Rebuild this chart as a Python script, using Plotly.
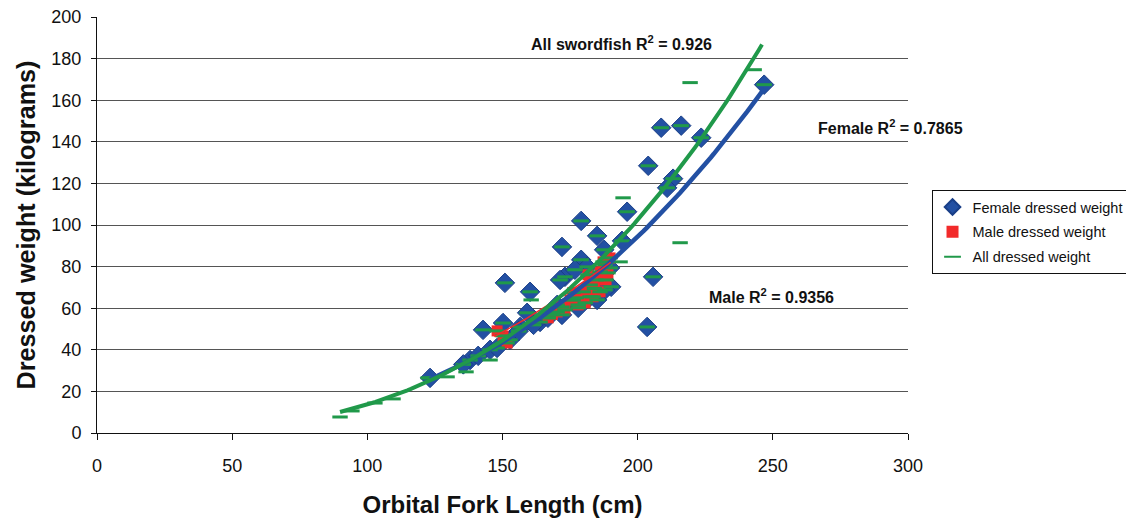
import numpy as np
import plotly.graph_objects as go

# ---------------- data ----------------
female_len = [246.8, 223.5, 208.7, 216.1, 213.1, 210.9, 203.9, 196.1, 194.2, 205.7,
              203.5, 179.1, 185.0, 172.0, 187.6, 190.2, 187.9, 179.1, 181.3, 173.1,
              176.8, 171.3, 182.4, 185.0, 178.0, 172.0, 176.1, 160.2, 150.9, 159.1,
              156.5, 150.2, 142.8, 123.2, 138.0, 141.0, 145.4, 148.0, 152.8, 163.9,
              166.8, 170.2, 189.8, 135.5, 156.0, 161.5]
female_wt = [167.5, 142.0, 146.8, 147.8, 122.3, 117.9, 128.5, 106.4, 92.4, 75.1,
             51.0, 102.0, 94.8, 89.5, 88.1, 70.3, 68.8, 83.3, 79.9, 75.1,
             78.5, 73.6, 65.5, 64.0, 60.2, 56.8, 64.0, 67.9, 72.2, 57.8,
             51.0, 52.9, 49.6, 26.5, 35.1, 37.1, 40.0, 40.9, 44.8, 53.4,
             55.4, 61.6, 79.4, 33.0, 49.0, 52.0]

male_len = [148.0, 150.2, 151.7, 166.9, 170.2, 172.0, 175.0, 177.2, 179.8, 182.4,
            184.6, 186.1, 187.9, 189.8, 183.5, 180.6, 186.1, 188.3, 178.0, 173.1,
            187.2, 181.6, 168.5, 176.0, 184.0, 189.0]
male_wt = [49.1, 46.7, 43.3, 55.4, 58.2, 60.6, 64.0, 65.0, 67.9, 71.2,
           73.6, 77.5, 80.9, 84.2, 65.5, 62.6, 67.9, 73.6, 61.6, 59.2,
           82.3, 76.1, 57.0, 67.5, 69.5, 77.0]

# fish of unrecorded sex (only in the "All" series)
other_len = [89.9, 94.3, 102.8, 109.5, 122.5, 129.5, 136.5, 145.4, 219.4, 243.1,
             194.6, 215.7, 193.5, 160.6]
other_wt = [7.7, 10.6, 14.4, 16.4, 26.5, 27.0, 29.4, 35.1, 168.5, 174.7,
            113.1, 91.5, 82.3, 64.0]

all_len = female_len + male_len + other_len
all_wt = female_wt + male_wt + other_wt

# power trendlines  W = a * L^b
female_fit = dict(a=6.6e-5, b=2.675, lo=123.2, hi=246.8)
male_fit = dict(a=6.8e-4, b=2.23, lo=147.0, hi=190.0)
all_fit = dict(a=2.2e-5, b=2.898, lo=89.9, hi=246.0)

x_ticks = [0, 50, 100, 150, 200, 250, 300]
y_ticks = [0, 20, 40, 60, 80, 100, 120, 140, 160, 180, 200]

BLUE = "#2350a3"
RED = "#f22a2a"
GREEN = "#20994a"
FONT = "Liberation Sans"


def curve(fit):
    xs = np.linspace(fit["lo"], fit["hi"], 120)
    return xs, fit["a"] * xs ** fit["b"]


fig = go.Figure()
fig.add_trace(go.Scatter(x=female_len, y=female_wt, mode="markers",
                         name="Female dressed weight", legendgroup="f",
                         marker=dict(symbol="diamond", size=15, color=BLUE,
                                     line=dict(color="#1a3f88", width=1))))
fig.add_trace(go.Scatter(x=male_len, y=male_wt, mode="markers",
                         name="Male dressed weight", legendgroup="m",
                         marker=dict(symbol="square", size=11, color=RED,
                                     line=dict(width=0))))
fig.add_trace(go.Scatter(x=all_len, y=all_wt, mode="markers",
                         name="All dressed weight", legendgroup="a",
                         marker=dict(symbol="line-ew", size=11, color=GREEN,
                                     line=dict(color=GREEN, width=3))))

for fit, col, w in [(female_fit, BLUE, 4.5), (male_fit, RED, 1.5), (all_fit, GREEN, 4)]:
    xs, ys = curve(fit)
    fig.add_trace(go.Scatter(x=xs, y=ys, mode="lines", showlegend=False,
                             hoverinfo="skip", line=dict(color=col, width=w)))

ann_font = dict(family=FONT, size=16, color="#111")
fig.add_annotation(x=159.8, y=187.7, xref="x", yref="y", xanchor="left", yanchor="middle",
                   text="<b>All swordfish R<sup>2</sup> = 0.926</b>", showarrow=False, font=ann_font)
fig.add_annotation(x=266.0, y=147.3, xref="x", yref="y", xanchor="left", yanchor="middle",
                   text="<b>Female R<sup>2</sup> = 0.7865</b>", showarrow=False, font=ann_font)
fig.add_annotation(x=225.7, y=66.0, xref="x", yref="y", xanchor="left", yanchor="middle",
                   text="<b>Male R<sup>2</sup> = 0.9356</b>", showarrow=False, font=ann_font)

# the page body adds an 8 px offset, so margins are set 8 px smaller on left/top
fig.update_layout(
    width=1134, height=522,
    margin=dict(l=89, r=234, t=9, b=97, autoexpand=False),
    paper_bgcolor="white", plot_bgcolor="white",
    font=dict(family=FONT, color="#111"),
    showlegend=True,
    legend=dict(x=1.029, y=0.584, xanchor="left", yanchor="top",
                bordercolor="#111", borderwidth=1, bgcolor="white",
                font=dict(family=FONT, size=14.5, color="#111"),
                tracegroupgap=3, itemsizing="constant"),
)
fig.update_xaxes(range=[0, 300], tickvals=x_ticks, ticktext=[str(v) for v in x_ticks],
                 automargin=False,
                 showgrid=False, zeroline=False, showline=True, linecolor="#111", linewidth=1,
                 ticks="outside", ticklen=6, tickcolor="#111", ticklabelstandoff=10,
                 tickfont=dict(family=FONT, size=18, color="#111"),
                 title=dict(text="<b>Orbital Fork Length (cm)</b>", standoff=21,
                            font=dict(family=FONT, size=24, color="#111")))
fig.update_yaxes(range=[0, 200.05], tickvals=y_ticks, ticktext=[str(v) for v in y_ticks],
                 automargin=False, ticklabeloverflow="allow",
                 showgrid=True, gridcolor="#555", gridwidth=1, zeroline=False,
                 showline=True, linecolor="#111", linewidth=1,
                 ticks="outside", ticklen=5, tickcolor="#111", ticklabelstandoff=6,
                 tickfont=dict(family=FONT, size=18, color="#111"),
                 title=dict(text="<b>Dressed weight (kilograms)</b>", standoff=8,
                            font=dict(family=FONT, size=25.2, color="#111")))

fig.write_html("out.html")
